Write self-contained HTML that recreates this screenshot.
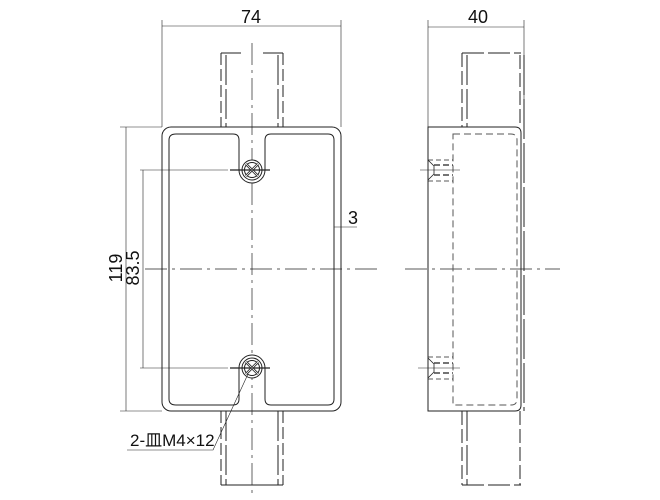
<!DOCTYPE html>
<html><head><meta charset="utf-8"><style>html,body{margin:0;padding:0;background:#fff}svg{display:block}</style></head><body>
<svg width="660" height="500" viewBox="0 0 660 500" xmlns="http://www.w3.org/2000/svg" font-family="Liberation Sans, Noto Sans CJK JP, sans-serif">
<g fill="none" stroke="#222" stroke-width="1">
<line x1="162" y1="20" x2="162" y2="127" stroke-width="0.6"/>
<line x1="341" y1="20" x2="341" y2="127" stroke-width="0.6"/>
<line x1="162" y1="26" x2="341" y2="26" stroke-width="0.6"/>
<line x1="221" y1="53" x2="241" y2="53"/><line x1="263" y1="53" x2="283" y2="53"/>
<line x1="221" y1="53" x2="221" y2="127" stroke-dasharray="12,4"/>
<line x1="226" y1="55" x2="226" y2="127" stroke-dasharray="30,4"/>
<line x1="283" y1="53" x2="283" y2="127" stroke-dasharray="12,4"/>
<line x1="278" y1="55" x2="278" y2="127" stroke-dasharray="30,4"/>
<line x1="221" y1="485" x2="283" y2="485"/>
<line x1="221" y1="411" x2="221" y2="485" stroke-dasharray="12,4"/>
<line x1="226" y1="411" x2="226" y2="485" stroke-dasharray="30,4"/>
<line x1="283" y1="411" x2="283" y2="485" stroke-dasharray="12,4"/>
<line x1="278" y1="411" x2="278" y2="485" stroke-dasharray="30,4"/>
<rect x="162" y="127" width="179" height="284" rx="9" fill="#fff"/>
<path d="M176 134 H233 Q239 134 239 140 V170 A13 13 0 0 0 265 170 V140 Q265 134 271 134 H328 Q334 134 334 140 V399 Q334 405 328 405 H271 Q265 405 265 399 V368 A13 13 0 0 0 239 368 V399 Q239 405 233 405 H176 Q169 405 169 399 V140 Q169 134 176 134 Z" fill="#fff"/>
<line x1="252" y1="43" x2="252" y2="495" stroke-width="0.7" stroke-dasharray="22,5,3,5"/>
<line x1="145" y1="269" x2="380" y2="269" stroke-width="0.7" stroke-dasharray="22,5,3,5"/>
<line x1="405" y1="269" x2="560" y2="269" stroke-width="0.7" stroke-dasharray="22,5,3,5"/>
<circle cx="252" cy="170" r="10" fill="#fff"/><circle cx="252" cy="170" r="7.5"/>
<path d="M246 164 L258 176 M258 164 L246 176" stroke-width="2.5"/>
<path d="M246 164 L258 176 M258 164 L246 176" stroke="#fff" stroke-width="0.8"/>
<line x1="230" y1="170" x2="270" y2="170" stroke-width="1.2"/>
<circle cx="252" cy="368" r="10" fill="#fff"/><circle cx="252" cy="368" r="7.5"/>
<path d="M246 362 L258 374 M258 362 L246 374" stroke-width="2.5"/>
<path d="M246 362 L258 374 M258 362 L246 374" stroke="#fff" stroke-width="0.8"/>
<line x1="230" y1="368" x2="270" y2="368" stroke-width="1.2"/>
<line x1="120" y1="127" x2="162" y2="127" stroke-width="0.6"/>
<line x1="120" y1="411" x2="162" y2="411" stroke-width="0.6"/>
<line x1="126" y1="127" x2="126" y2="411" stroke-width="0.6"/>
<line x1="140" y1="170" x2="228" y2="170" stroke-width="0.6"/>
<line x1="140" y1="368" x2="228" y2="368" stroke-width="0.6"/>
<line x1="143" y1="170" x2="143" y2="368" stroke-width="0.6"/>
<line x1="334" y1="227" x2="357" y2="227" stroke-width="0.6"/>
<polyline points="248,374 213,450 127,450" stroke-width="0.6"/>
<line x1="428" y1="20" x2="428" y2="127" stroke-width="0.6"/>
<line x1="524" y1="20" x2="524" y2="127" stroke-width="0.6"/>
<line x1="428" y1="27" x2="524" y2="27" stroke-width="0.6"/>
<line x1="462" y1="53" x2="521" y2="53" stroke-dasharray="22,4"/>
<line x1="462" y1="53" x2="462" y2="127" stroke-dasharray="14,4"/>
<line x1="467" y1="55" x2="467" y2="127" stroke-dasharray="30,4"/>
<line x1="520" y1="55" x2="520" y2="127" stroke-dasharray="14,4"/>
<line x1="524" y1="55" x2="524" y2="411" stroke-dasharray="40,4"/>
<line x1="462" y1="485" x2="521" y2="485" stroke-dasharray="22,4"/>
<line x1="462" y1="411" x2="462" y2="485" stroke-dasharray="14,4"/>
<line x1="467" y1="411" x2="467" y2="485" stroke-dasharray="30,4"/>
<line x1="520" y1="411" x2="520" y2="485" stroke-dasharray="14,4"/>
<path d="M428 127 H515 Q521 127 521 133 V405 Q521 411 515 411 H428 Z"/>
<path d="M453 134 H511 Q517 134 517 140 V399 Q517 405 511 405 H453 Z" stroke="#555" stroke-dasharray="7,4"/>
<g stroke-width="0.8">
<path d="M428 160 L434 166 L434 174 L428 180" />
<line x1="434" y1="165" x2="453" y2="165" stroke-dasharray="6,3" stroke-width="1.3"/>
<line x1="434" y1="175" x2="453" y2="175" stroke-dasharray="6,3" stroke-width="1.3"/>
<line x1="428" y1="160" x2="453" y2="160" stroke-dasharray="5,3"/>
<line x1="428" y1="181" x2="453" y2="181" stroke-dasharray="5,3"/>
<line x1="420" y1="170" x2="460" y2="170" stroke-width="0.6"/>
<path d="M428 358 L434 364 L434 372 L428 378" />
<line x1="434" y1="363" x2="453" y2="363" stroke-dasharray="6,3" stroke-width="1.3"/>
<line x1="434" y1="373" x2="453" y2="373" stroke-dasharray="6,3" stroke-width="1.3"/>
<line x1="428" y1="357" x2="453" y2="357" stroke-dasharray="5,3"/>
<line x1="428" y1="379" x2="453" y2="379" stroke-dasharray="5,3"/>
<line x1="418" y1="368" x2="460" y2="368" stroke-width="0.6"/>
</g>
</g>
<g fill="#111" font-size="18">
<text x="251" y="23" text-anchor="middle">74</text>
<text x="478" y="23" text-anchor="middle">40</text>
<text x="348" y="224">3</text>
<text transform="translate(122,268) rotate(-90)" text-anchor="middle">119</text>
<text transform="translate(139,268) rotate(-90)" text-anchor="middle">83.5</text>
<text x="130" y="446" font-size="17">2-皿M4×12</text>
</g>
</svg>
</body></html>
